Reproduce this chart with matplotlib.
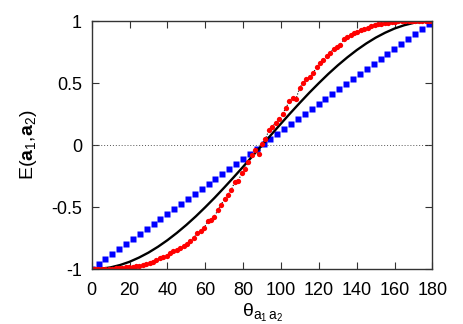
import numpy as np
import matplotlib
matplotlib.use('Agg')
import matplotlib.pyplot as plt

plt.rcParams['font.family'] = ['Liberation Sans', 'DejaVu Sans']
plt.rcParams['mathtext.fontset'] = 'custom'
plt.rcParams['mathtext.rm'] = 'Liberation Sans'
plt.rcParams['mathtext.it'] = 'Liberation Sans:italic'
plt.rcParams['mathtext.bf'] = 'Liberation Sans:bold'
plt.rcParams['axes.unicode_minus'] = False

# theory curve (every 5 degrees)
theta_theory = np.arange(0, 181, 5)
E_theory = [-1.000, -0.996, -0.985, -0.966, -0.940, -0.906, -0.866, -0.819, -0.766,
            -0.707, -0.643, -0.574, -0.500, -0.423, -0.342, -0.259, -0.174, -0.087,
            0.000, 0.087, 0.174, 0.259, 0.342, 0.423, 0.500, 0.574, 0.643, 0.707,
            0.766, 0.819, 0.866, 0.906, 0.940, 0.966, 0.985, 0.996, 1.000]

# blue squares
theta_blue = np.linspace(0, 178, 50)
E_blue = [-1.000, -0.960, -0.919, -0.879, -0.839, -0.798, -0.758, -0.718, -0.677, -0.637,
          -0.596, -0.556, -0.516, -0.475, -0.435, -0.395, -0.354, -0.314, -0.273, -0.233,
          -0.193, -0.152, -0.112, -0.072, -0.031, 0.009, 0.049, 0.090, 0.130, 0.170,
          0.211, 0.251, 0.292, 0.332, 0.372, 0.413, 0.453, 0.493, 0.534, 0.574,
          0.615, 0.655, 0.695, 0.736, 0.776, 0.816, 0.857, 0.897, 0.937, 0.978]

# red measured points
theta_red = np.linspace(0, 180, 101)
E_red = [-1.000, -1.000, -1.000, -0.999, -0.998, -0.997, -0.995, -0.993, -0.990, -0.988,
         -0.985, -0.983, -0.979, -0.975, -0.970, -0.966, -0.958, -0.950, -0.941, -0.928,
         -0.912, -0.900, -0.893, -0.872, -0.852, -0.846, -0.830, -0.815, -0.800, -0.776,
         -0.745, -0.710, -0.695, -0.670, -0.612, -0.600, -0.575, -0.525, -0.480, -0.430,
         -0.400, -0.360, -0.294, -0.290, -0.225, -0.190, -0.135, -0.080, -0.040, -0.074,
         0.010, 0.050, 0.120, 0.150, 0.180, 0.210, 0.250, 0.300, 0.355, 0.380,
         0.375, 0.460, 0.500, 0.530, 0.550, 0.580, 0.630, 0.660, 0.690, 0.720,
         0.745, 0.775, 0.790, 0.810, 0.855, 0.870, 0.890, 0.900, 0.915, 0.930,
         0.935, 0.945, 0.960, 0.970, 0.975, 0.980, 0.985, 0.988, 0.992, 0.995,
         0.997, 0.998, 0.999, 1.000, 1.000, 1.000, 1.000, 1.000, 1.000, 1.000,
         1.000]

fig = plt.figure(figsize=(4.63, 3.24), dpi=100)
ax = fig.add_axes([0.198, 0.169, 0.736, 0.766])

ax.axhline(0, color='#555555', lw=0.7, ls=(0, (1, 2)))
ax.plot(theta_blue, E_blue, 's', color='#0000ff', ms=3.8, mec='none')
ax.plot(theta_theory, E_theory, '-', color='black', lw=1.7)
ax.plot(theta_red, E_red, ':', color='black', lw=0.8)
ax.plot(theta_red, E_red, 'o', color='#ff0000', ms=3.8, mec='none')

ax.set_xlim(0, 180)
ax.set_ylim(-1, 1)
ax.set_xticks(np.arange(0, 181, 20))
ax.set_yticks([-1, -0.5, 0, 0.5, 1])
ax.set_yticklabels(['-1', '-0.5', '0', '0.5', '1'])
ax.tick_params(direction='in', top=True, right=True, length=5, width=0.8,
               labelsize=13, color='#333333')
ax.tick_params(axis='x', pad=9)
ax.tick_params(axis='y', pad=7)
for s in ax.spines.values():
    s.set_linewidth(1.0)
    s.set_color('#333333')

ax.set_xlabel('θ$_{\\mathrm{a_1\\,a_2}}$', fontsize=14, labelpad=2)
ax.set_ylabel('E($\\mathbf{a}_1$,$\\mathbf{a}_2$)', fontsize=14, labelpad=9)

fig.savefig('out.png', dpi=100)
